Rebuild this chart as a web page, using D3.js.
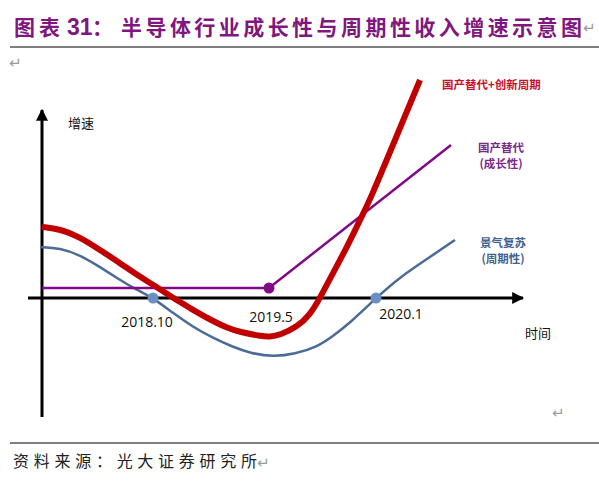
<!DOCTYPE html>
<html>
<head>
<meta charset="utf-8">
<script src="https://cdn.jsdelivr.net/npm/d3@7"></script>
<style>
  body { margin: 0; background: #fff; }
  svg { display: block; }
</style>
</head>
<body>
<div id="chart"></div>
<script>
// schematic values (t = time units, v = growth units)
var cycleT   = [-0.4, 3.6, 7.6, 11.6, 15.6, 19, 22.2, 26.2, 30.2, 34.2, 38.2, 41.6, 46.2, 50.6, 55, 58.2, 61.6, 66.8, 71.6, 77.6, 82.6];
var cycleV   = [10.2, 10, 8.6, 6.2, 3.6, 1.6, 0, -3, -5.8, -8, -9.8, -11, -11.8, -11.2, -9.8, -7.6, -5, 0, 4.2, 8.2, 11.6];
var comboT   = [0, 3.6, 7.6, 11.6, 15.6, 19.6, 23, 26.2, 29.6, 33, 37, 39.6, 43.6, 45.6, 47.6, 51, 53.6, 55.6, 58.2, 61, 63.6, 65.6, 70.6, 75.6];
var comboV   = [14.2, 13.8, 12.2, 9.6, 7, 4.2, 2.2, 0, -2, -4, -6, -6.8, -7.6, -7.8, -7.4, -5.8, -3.4, 0, 5, 10.2, 15.6, 19.6, 31.6, 43.6];
var growthT  = [0, 45.4, 81.8];
var growthV  = [2, 2, 30.6];
var tickT    = [22.2, 45.4, 66.8];
var tickLabels = ["2018.10", "2019.5", "2020.1"];
var seriesLabels = [["国产替代+创新周期"], ["国产替代", "(成长性)"], ["景气复苏", "(周期性)"]];

var svgWidth = 599, svgHeight = 482;
var svg = d3.select("#chart").append("svg")
    .attr("width", svgWidth)
    .attr("height", svgHeight);

// scales: 5px per unit, origin at (42, 298)
var x = d3.scaleLinear().domain([-2.8, 96.2]).range([28, 523]);
var y = d3.scaleLinear().domain([-23.8, 37.6]).range([417, 110]);

// title
var purple = "#80177f";
var title = svg.append("text")
    .attr("x", 14).attr("y", 35)
    .attr("fill", purple)
    .style("font-family", "'Noto Sans CJK SC', sans-serif")
    .style("font-weight", 700)
    .style("font-size", "21px");
title.append("tspan").text("图表").attr("textLength", 46).attr("lengthAdjust", "spacing");
title.append("tspan").attr("x", 67).text("31")
    .style("font-family", "'Liberation Sans', Arial, sans-serif").style("font-size", "23px");
title.append("tspan").attr("x", 92).text("：");
title.append("tspan").attr("x", 121).text("半导体行业成长性与周期性收入增速示意图")
    .attr("textLength", 461).attr("lengthAdjust", "spacing");

svg.append("line")
    .attr("x1", 10).attr("x2", 599).attr("y1", 47).attr("y2", 47)
    .attr("stroke", "#000").attr("stroke-width", 1.2);

// paragraph marks
function mark(px, py) {
    svg.append("text").attr("x", px).attr("y", py).text("↵")
        .attr("fill", "#9a9a9a")
        .style("font-family", "'DejaVu Sans', sans-serif")
        .style("font-size", "15px");
}
mark(583, 33);
mark(9, 68);
mark(552, 418);

// arrow marker
svg.append("defs").append("marker")
    .attr("id", "arrow")
    .attr("viewBox", "0 0 10 10")
    .attr("refX", 9).attr("refY", 5)
    .attr("markerWidth", 4).attr("markerHeight", 4)
    .attr("markerUnits", "strokeWidth")
    .attr("orient", "auto")
    .append("path").attr("d", "M0,0 L10,5 L0,10 z").attr("fill", "#000");

var chart = svg.append("g");

// axes
chart.append("line")
    .attr("x1", x(-2.8)).attr("x2", x(96.2))
    .attr("y1", y(0)).attr("y2", y(0))
    .attr("stroke", "#000").attr("stroke-width", 3)
    .attr("marker-end", "url(#arrow)");
chart.append("line")
    .attr("x1", x(0)).attr("x2", x(0))
    .attr("y1", y(-23.8)).attr("y2", y(37.6))
    .attr("stroke", "#000").attr("stroke-width", 3)
    .attr("marker-end", "url(#arrow)");

var cjk = "'Noto Sans CJK SC', sans-serif";
chart.append("text").attr("x", 68).attr("y", 128).text("增速")
    .style("font-family", cjk).style("font-size", "13px").attr("fill", "#111");
chart.append("text").attr("x", 525).attr("y", 338).text("时间")
    .style("font-family", cjk).style("font-size", "13px").attr("fill", "#111");

var line = d3.line()
    .x(function (d) { return x(d[0]); })
    .y(function (d) { return y(d[1]); })
    .curve(d3.curveBasis);

// cycle (blue)
chart.append("path")
    .datum(d3.zip(cycleT, cycleV))
    .attr("d", line)
    .attr("fill", "none").attr("stroke", "#4b6b96").attr("stroke-width", 2.5);

// growth (purple)
chart.append("path")
    .datum(d3.zip(growthT, growthV))
    .attr("d", d3.line().x(function (d) { return x(d[0]); }).y(function (d) { return y(d[1]); }))
    .attr("fill", "none").attr("stroke", "#800a86").attr("stroke-width", 2.5);

// combined (red)
chart.append("path")
    .datum(d3.zip(comboT, comboV))
    .attr("d", line)
    .attr("fill", "none").attr("stroke", "#c00000").attr("stroke-width", 6)
    .attr("stroke-linecap", "butt");

// dots
chart.selectAll(".cdot")
    .data([tickT[0], tickT[2]])
    .enter().append("circle")
    .attr("cx", function (d) { return x(d); })
    .attr("cy", y(0))
    .attr("r", 5.5)
    .attr("fill", "#6a8fc2");
chart.append("circle")
    .attr("cx", x(growthT[1])).attr("cy", y(growthV[1]))
    .attr("r", 5.5).attr("fill", "#800a86");

// tick labels
var tickDx = [-6, 2, 25];
var tickDy = [29, 24, 21];
chart.selectAll(".tick-label")
    .data(tickLabels)
    .enter().append("text")
    .attr("x", function (d, i) { return x(tickT[i]) + tickDx[i]; })
    .attr("y", function (d, i) { return y(0) + tickDy[i]; })
    .attr("text-anchor", "middle")
    .style("font-family", "'Open Sans', sans-serif")
    .style("font-size", "14px")
    .attr("fill", "#111")
    .text(function (d) { return d; });

// series labels
var labelColors = ["#c8102e", "#7b2a8c", "#42628f"];
var labelPos = [[442, 89, "start"], [501, 152, "middle"], [503, 247, "middle"]];
seriesLabels.forEach(function (lines, i) {
    lines.forEach(function (s, j) {
        chart.append("text")
            .attr("x", labelPos[i][0]).attr("y", labelPos[i][1] + j * 16)
            .attr("text-anchor", labelPos[i][2])
            .attr("fill", labelColors[i])
            .style("font-family", cjk)
            .style("font-weight", 700)
            .style("font-size", "11.5px")
            .text(s);
    });
});

// footer
svg.append("line")
    .attr("x1", 10).attr("x2", 599).attr("y1", 443).attr("y2", 443)
    .attr("stroke", "#000").attr("stroke-width", 1.2);
svg.append("text")
    .attr("x", 13).attr("y", 467)
    .attr("fill", "#222")
    .style("font-family", cjk)
    .style("font-size", "16px")
    .attr("textLength", 244).attr("lengthAdjust", "spacing")
    .text("资料来源：光大证券研究所");
mark(257, 468);
</script>
</body>
</html>
